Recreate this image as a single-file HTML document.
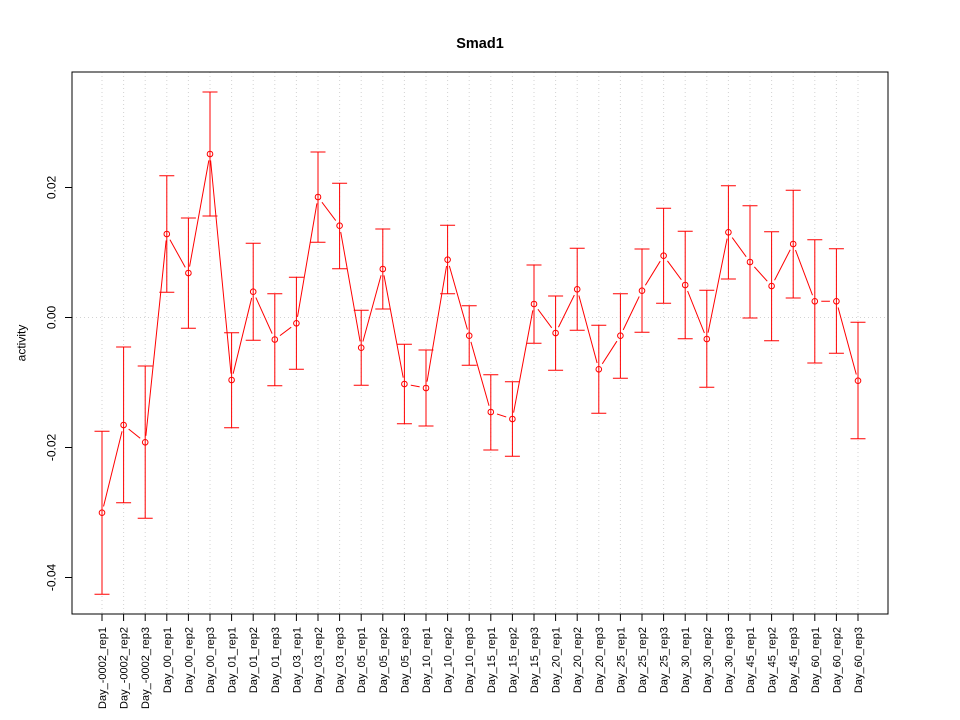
<!DOCTYPE html>
<html><head><meta charset="utf-8"><style>
html,body{margin:0;padding:0;background:#fff;}
svg{display:block;}
text{font-family:"Liberation Sans",Arial,sans-serif;fill:#000;}
</style></head><body>
<svg width="960" height="720" viewBox="0 0 960 720" xmlns="http://www.w3.org/2000/svg">
<defs>
<mask id="m" maskUnits="userSpaceOnUse" x="0" y="0" width="960" height="720">
<rect x="0" y="0" width="960" height="720" fill="#fff"/>
<g fill="#000">
<circle cx="102" cy="512.7" r="6.5"/><circle cx="123.6" cy="425" r="6.5"/><circle cx="145.2" cy="442.3" r="6.5"/>
<circle cx="166.8" cy="234" r="6.5"/><circle cx="188.4" cy="273" r="6.5"/><circle cx="210" cy="154" r="6.5"/>
<circle cx="231.6" cy="380" r="6.5"/><circle cx="253.2" cy="291.7" r="6.5"/><circle cx="274.8" cy="339.5" r="6.5"/>
<circle cx="296.4" cy="323.3" r="6.5"/><circle cx="318" cy="197" r="6.5"/><circle cx="339.6" cy="225.7" r="6.5"/>
<circle cx="361.2" cy="347.7" r="6.5"/><circle cx="382.8" cy="269" r="6.5"/><circle cx="404.4" cy="384" r="6.5"/>
<circle cx="426" cy="388" r="6.5"/><circle cx="447.6" cy="259.7" r="6.5"/><circle cx="469.2" cy="335.7" r="6.5"/>
<circle cx="490.8" cy="412" r="6.5"/><circle cx="512.4" cy="419" r="6.5"/><circle cx="534" cy="304" r="6.5"/>
<circle cx="555.6" cy="333" r="6.5"/><circle cx="577.2" cy="289.3" r="6.5"/><circle cx="598.8" cy="369.3" r="6.5"/>
<circle cx="620.4" cy="335.7" r="6.5"/><circle cx="642" cy="290.7" r="6.5"/><circle cx="663.6" cy="255.7" r="6.5"/>
<circle cx="685.2" cy="285" r="6.5"/><circle cx="706.8" cy="339" r="6.5"/><circle cx="728.4" cy="232.3" r="6.5"/>
<circle cx="750" cy="262" r="6.5"/><circle cx="771.6" cy="286" r="6.5"/><circle cx="793.2" cy="244" r="6.5"/>
<circle cx="814.8" cy="301.3" r="6.5"/><circle cx="836.4" cy="301.3" r="6.5"/><circle cx="858" cy="380.7" r="6.5"/>
</g>
</mask>
</defs>

<!-- grid -->
<g stroke="#d3d3d3" stroke-width="1" stroke-dasharray="1,3">
<line x1="102" y1="72" x2="102" y2="614"/><line x1="123.6" y1="72" x2="123.6" y2="614"/><line x1="145.2" y1="72" x2="145.2" y2="614"/>
<line x1="166.8" y1="72" x2="166.8" y2="614"/><line x1="188.4" y1="72" x2="188.4" y2="614"/><line x1="210" y1="72" x2="210" y2="614"/>
<line x1="231.6" y1="72" x2="231.6" y2="614"/><line x1="253.2" y1="72" x2="253.2" y2="614"/><line x1="274.8" y1="72" x2="274.8" y2="614"/>
<line x1="296.4" y1="72" x2="296.4" y2="614"/><line x1="318" y1="72" x2="318" y2="614"/><line x1="339.6" y1="72" x2="339.6" y2="614"/>
<line x1="361.2" y1="72" x2="361.2" y2="614"/><line x1="382.8" y1="72" x2="382.8" y2="614"/><line x1="404.4" y1="72" x2="404.4" y2="614"/>
<line x1="426" y1="72" x2="426" y2="614"/><line x1="447.6" y1="72" x2="447.6" y2="614"/><line x1="469.2" y1="72" x2="469.2" y2="614"/>
<line x1="490.8" y1="72" x2="490.8" y2="614"/><line x1="512.4" y1="72" x2="512.4" y2="614"/><line x1="534" y1="72" x2="534" y2="614"/>
<line x1="555.6" y1="72" x2="555.6" y2="614"/><line x1="577.2" y1="72" x2="577.2" y2="614"/><line x1="598.8" y1="72" x2="598.8" y2="614"/>
<line x1="620.4" y1="72" x2="620.4" y2="614"/><line x1="642" y1="72" x2="642" y2="614"/><line x1="663.6" y1="72" x2="663.6" y2="614"/>
<line x1="685.2" y1="72" x2="685.2" y2="614"/><line x1="706.8" y1="72" x2="706.8" y2="614"/><line x1="728.4" y1="72" x2="728.4" y2="614"/>
<line x1="750" y1="72" x2="750" y2="614"/><line x1="771.6" y1="72" x2="771.6" y2="614"/><line x1="793.2" y1="72" x2="793.2" y2="614"/>
<line x1="814.8" y1="72" x2="814.8" y2="614"/><line x1="836.4" y1="72" x2="836.4" y2="614"/><line x1="858" y1="72" x2="858" y2="614"/>
<line x1="72" y1="317.5" x2="888" y2="317.5"/>
</g>

<!-- connecting line -->
<polyline mask="url(#m)" fill="none" stroke="#ff0000" stroke-width="1" points="102,512.7 123.6,425 145.2,442.3 166.8,234 188.4,273 210,154 231.6,380 253.2,291.7 274.8,339.5 296.4,323.3 318,197 339.6,225.7 361.2,347.7 382.8,269 404.4,384 426,388 447.6,259.7 469.2,335.7 490.8,412 512.4,419 534,304 555.6,333 577.2,289.3 598.8,369.3 620.4,335.7 642,290.7 663.6,255.7 685.2,285 706.8,339 728.4,232.3 750,262 771.6,286 793.2,244 814.8,301.3 836.4,301.3 858,380.7"/>

<!-- error bars -->
<path fill="none" stroke="#ff0000" stroke-width="1" d="
M102,431.3V594.3M94.5,431.3H109.5M94.5,594.3H109.5
M123.6,347V502.7M116.1,347H131.1M116.1,502.7H131.1
M145.2,366V518.3M137.7,366H152.7M137.7,518.3H152.7
M166.8,175.7V292.3M159.3,175.7H174.3M159.3,292.3H174.3
M188.4,218V328.3M180.9,218H195.9M180.9,328.3H195.9
M210,92V216M202.5,92H217.5M202.5,216H217.5
M231.6,332.7V427.7M224.1,332.7H239.1M224.1,427.7H239.1
M253.2,243.3V340.3M245.7,243.3H260.7M245.7,340.3H260.7
M274.8,293.7V385.7M267.3,293.7H282.3M267.3,385.7H282.3
M296.4,277.3V369.3M288.9,277.3H303.9M288.9,369.3H303.9
M318,152V242.3M310.5,152H325.5M310.5,242.3H325.5
M339.6,183.3V268.7M332.1,183.3H347.1M332.1,268.7H347.1
M361.2,310.2V385.3M353.7,310.2H368.7M353.7,385.3H368.7
M382.8,229V309M375.3,229H390.3M375.3,309H390.3
M404.4,344.3V423.7M396.9,344.3H411.9M396.9,423.7H411.9
M426,350V426M418.5,350H433.5M418.5,426H433.5
M447.6,225.3V293.7M440.1,225.3H455.1M440.1,293.7H455.1
M469.2,305.7V365.3M461.7,305.7H476.7M461.7,365.3H476.7
M490.8,374.7V450M483.3,374.7H498.3M483.3,450H498.3
M512.4,381.7V456.3M504.9,381.7H519.9M504.9,456.3H519.9
M534,265V343.3M526.5,265H541.5M526.5,343.3H541.5
M555.6,296V370.3M548.1,296H563.1M548.1,370.3H563.1
M577.2,248.3V330.3M569.7,248.3H584.7M569.7,330.3H584.7
M598.8,325.3V413.3M591.3,325.3H606.3M591.3,413.3H606.3
M620.4,293.7V378.3M612.9,293.7H627.9M612.9,378.3H627.9
M642,249V332.3M634.5,249H649.5M634.5,332.3H649.5
M663.6,208.3V303.3M656.1,208.3H671.1M656.1,303.3H671.1
M685.2,231.3V338.7M677.7,231.3H692.7M677.7,338.7H692.7
M706.8,290.3V387.3M699.3,290.3H714.3M699.3,387.3H714.3
M728.4,185.7V279M720.9,185.7H735.9M720.9,279H735.9
M750,205.7V318M742.5,205.7H757.5M742.5,318H757.5
M771.6,231.7V340.7M764.1,231.7H779.1M764.1,340.7H779.1
M793.2,190.3V298M785.7,190.3H800.7M785.7,298H800.7
M814.8,239.7V363M807.3,239.7H822.3M807.3,363H822.3
M836.4,248.7V353.3M828.9,248.7H843.9M828.9,353.3H843.9
M858,322.3V438.7M850.5,322.3H865.5M850.5,438.7H865.5"/>

<!-- points -->
<g fill="none" stroke="#ff0000" stroke-width="1">
<circle cx="102" cy="512.7" r="2.8"/><circle cx="123.6" cy="425" r="2.8"/><circle cx="145.2" cy="442.3" r="2.8"/>
<circle cx="166.8" cy="234" r="2.8"/><circle cx="188.4" cy="273" r="2.8"/><circle cx="210" cy="154" r="2.8"/>
<circle cx="231.6" cy="380" r="2.8"/><circle cx="253.2" cy="291.7" r="2.8"/><circle cx="274.8" cy="339.5" r="2.8"/>
<circle cx="296.4" cy="323.3" r="2.8"/><circle cx="318" cy="197" r="2.8"/><circle cx="339.6" cy="225.7" r="2.8"/>
<circle cx="361.2" cy="347.7" r="2.8"/><circle cx="382.8" cy="269" r="2.8"/><circle cx="404.4" cy="384" r="2.8"/>
<circle cx="426" cy="388" r="2.8"/><circle cx="447.6" cy="259.7" r="2.8"/><circle cx="469.2" cy="335.7" r="2.8"/>
<circle cx="490.8" cy="412" r="2.8"/><circle cx="512.4" cy="419" r="2.8"/><circle cx="534" cy="304" r="2.8"/>
<circle cx="555.6" cy="333" r="2.8"/><circle cx="577.2" cy="289.3" r="2.8"/><circle cx="598.8" cy="369.3" r="2.8"/>
<circle cx="620.4" cy="335.7" r="2.8"/><circle cx="642" cy="290.7" r="2.8"/><circle cx="663.6" cy="255.7" r="2.8"/>
<circle cx="685.2" cy="285" r="2.8"/><circle cx="706.8" cy="339" r="2.8"/><circle cx="728.4" cy="232.3" r="2.8"/>
<circle cx="750" cy="262" r="2.8"/><circle cx="771.6" cy="286" r="2.8"/><circle cx="793.2" cy="244" r="2.8"/>
<circle cx="814.8" cy="301.3" r="2.8"/><circle cx="836.4" cy="301.3" r="2.8"/><circle cx="858" cy="380.7" r="2.8"/>
</g>

<!-- frame -->
<rect x="72" y="72" width="816" height="542" fill="none" stroke="#000" stroke-width="1"/>
<!-- y axis -->
<path fill="none" stroke="#000" stroke-width="1" d="M72,187.5V577.5M65,187.5H72M65,317.5H72M65,447.5H72M65,577.5H72"/>
<!-- x axis -->
<path fill="none" stroke="#000" stroke-width="1" d="M102,614H858
M102,614V621M123.6,614V621M145.2,614V621M166.8,614V621M188.4,614V621M210,614V621
M231.6,614V621M253.2,614V621M274.8,614V621M296.4,614V621M318,614V621M339.6,614V621
M361.2,614V621M382.8,614V621M404.4,614V621M426,614V621M447.6,614V621M469.2,614V621
M490.8,614V621M512.4,614V621M534,614V621M555.6,614V621M577.2,614V621M598.8,614V621
M620.4,614V621M642,614V621M663.6,614V621M685.2,614V621M706.8,614V621M728.4,614V621
M750,614V621M771.6,614V621M793.2,614V621M814.8,614V621M836.4,614V621M858,614V621"/>

<!-- y tick labels -->
<g font-size="12" text-anchor="middle">
<text transform="translate(55.5,187.5) rotate(-90)">0.02</text>
<text transform="translate(55.5,317.5) rotate(-90)">0.00</text>
<text transform="translate(55.5,447.5) rotate(-90)">-0.02</text>
<text transform="translate(55.5,577.5) rotate(-90)">-0.04</text>
</g>
<text font-size="12" text-anchor="middle" transform="translate(25.5,343) rotate(-90)">activity</text>

<!-- title -->
<text x="480" y="48" font-size="14.5" font-weight="bold" text-anchor="middle">Smad1</text>

<!-- x labels -->
<g font-size="11" text-anchor="end">
<text transform="translate(106,627) rotate(-90)">Day_-0002_rep1</text>
<text transform="translate(127.6,627) rotate(-90)">Day_-0002_rep2</text>
<text transform="translate(149.2,627) rotate(-90)">Day_-0002_rep3</text>
<text transform="translate(170.8,627) rotate(-90)">Day_00_rep1</text>
<text transform="translate(192.4,627) rotate(-90)">Day_00_rep2</text>
<text transform="translate(214,627) rotate(-90)">Day_00_rep3</text>
<text transform="translate(235.6,627) rotate(-90)">Day_01_rep1</text>
<text transform="translate(257.2,627) rotate(-90)">Day_01_rep2</text>
<text transform="translate(278.8,627) rotate(-90)">Day_01_rep3</text>
<text transform="translate(300.4,627) rotate(-90)">Day_03_rep1</text>
<text transform="translate(322,627) rotate(-90)">Day_03_rep2</text>
<text transform="translate(343.6,627) rotate(-90)">Day_03_rep3</text>
<text transform="translate(365.2,627) rotate(-90)">Day_05_rep1</text>
<text transform="translate(386.8,627) rotate(-90)">Day_05_rep2</text>
<text transform="translate(408.4,627) rotate(-90)">Day_05_rep3</text>
<text transform="translate(430,627) rotate(-90)">Day_10_rep1</text>
<text transform="translate(451.6,627) rotate(-90)">Day_10_rep2</text>
<text transform="translate(473.2,627) rotate(-90)">Day_10_rep3</text>
<text transform="translate(494.8,627) rotate(-90)">Day_15_rep1</text>
<text transform="translate(516.4,627) rotate(-90)">Day_15_rep2</text>
<text transform="translate(538,627) rotate(-90)">Day_15_rep3</text>
<text transform="translate(559.6,627) rotate(-90)">Day_20_rep1</text>
<text transform="translate(581.2,627) rotate(-90)">Day_20_rep2</text>
<text transform="translate(602.8,627) rotate(-90)">Day_20_rep3</text>
<text transform="translate(624.4,627) rotate(-90)">Day_25_rep1</text>
<text transform="translate(646,627) rotate(-90)">Day_25_rep2</text>
<text transform="translate(667.6,627) rotate(-90)">Day_25_rep3</text>
<text transform="translate(689.2,627) rotate(-90)">Day_30_rep1</text>
<text transform="translate(710.8,627) rotate(-90)">Day_30_rep2</text>
<text transform="translate(732.4,627) rotate(-90)">Day_30_rep3</text>
<text transform="translate(754,627) rotate(-90)">Day_45_rep1</text>
<text transform="translate(775.6,627) rotate(-90)">Day_45_rep2</text>
<text transform="translate(797.2,627) rotate(-90)">Day_45_rep3</text>
<text transform="translate(818.8,627) rotate(-90)">Day_60_rep1</text>
<text transform="translate(840.4,627) rotate(-90)">Day_60_rep2</text>
<text transform="translate(862,627) rotate(-90)">Day_60_rep3</text>
</g>
</svg>
</body></html>
